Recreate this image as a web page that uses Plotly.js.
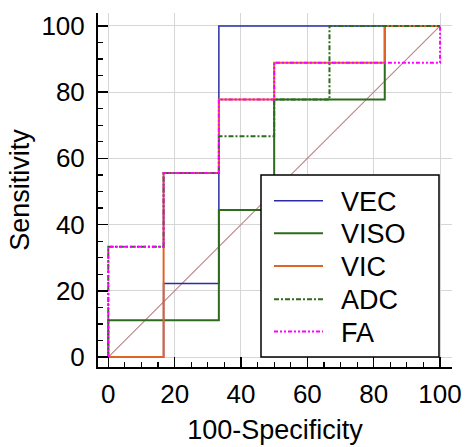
<!DOCTYPE html>
<html><head><meta charset="utf-8">
<script src="https://cdn.plot.ly/plotly-3.0.1.min.js"></script>
<style>html,body{margin:0;padding:0;background:#fff}</style>
</head><body><div id="chart" style="width:465px;height:447px"></div>
<script>
// ROC operating points (100-Specificity, Sensitivity), drawn as steps
const vecX  = [0, 16.67, 33.33, 100];
const vecY  = [0, 22.22, 100, 100];
const visoX = [0, 0, 33.33, 50, 83.33, 100];
const visoY = [0, 11.11, 44.44, 77.78, 100, 100];
const vicX  = [0, 16.67, 33.33, 50, 83.33, 100];
const vicY  = [0, 55.56, 77.78, 88.89, 100, 100];
const adcX  = [0, 0, 16.67, 33.33, 50, 66.67, 100];
const adcY  = [0, 33.33, 55.56, 66.67, 77.78, 100, 100];
const faX   = [0, 0, 16.67, 33.33, 50, 100];
const faY   = [0, 33.33, 55.56, 77.78, 88.89, 100];
const diagX = [0, 100];
const diagY = [0, 100];
const seriesNames = ['VEC', 'VISO', 'VIC', 'ADC', 'FA'];
const tickVals = [0, 20, 40, 60, 80, 100];
const FONT = 'Liberation Sans, Arial, sans-serif';

const styles = [
  {color: '#2b2ba6', width: 1.5, dash: 'solid'},
  {color: '#2d6b1e', width: 2, dash: 'solid'},
  {color: '#e0642a', width: 2, dash: 'solid'},
  {color: '#2d6b1e', width: 2, dash: '5px,2px,2px,2px'},
  {color: '#ff00ff', width: 2, dash: '4px,2px,2px,2px,2px,2px'}
];
const seriesX = [vecX, visoX, vicX, adcX, faX];
const seriesY = [vecY, visoY, vicY, adcY, faY];

const traces = [
  {x: diagX, y: diagY, mode: 'lines', line: {color: '#c08282', width: 1.1}, showlegend: false, hoverinfo: 'skip'}
];
seriesNames.forEach((n, i) => {
  traces.push({x: seriesX[i], y: seriesY[i], name: n, mode: 'lines',
    line: Object.assign({shape: 'hv'}, styles[i]), showlegend: false});
});

// plot area in pixels
const L = 98, R = 452, T = 13, B = 367;
const px = v => (v - L) / (R - L);
const py = v => (B - v) / (B - T);

// custom legend (box, line samples, labels)
const shapes = [{type: 'rect', xref: 'paper', yref: 'paper',
  x0: px(261), x1: px(439), y0: py(357), y1: py(175),
  fillcolor: '#fff', line: {color: '#000', width: 1.5}, layer: 'above'}];
const annotations = [];
const itemY = [200.7, 233.3, 266, 299.3, 331.5];
seriesNames.forEach((n, i) => {
  shapes.push({type: 'line', xref: 'paper', yref: 'paper',
    x0: px(274), x1: px(323), y0: py(itemY[i]), y1: py(itemY[i]),
    line: styles[i], layer: 'above'});
  annotations.push({xref: 'paper', yref: 'paper', x: px(339), y: py(itemY[i] + 1),
    xanchor: 'left', yanchor: 'middle', text: n, showarrow: false,
    font: {family: FONT, size: 27, color: '#000'}});
});

const axisCommon = {
  tickvals: tickVals, ticks: 'inside', ticklen: 10, tickwidth: 1.5, tickcolor: '#000',
  showline: true, linecolor: '#000', linewidth: 2, mirror: false,
  showgrid: true, gridcolor: '#d6d6d6', gridwidth: 1, zeroline: false,
  minor: {dtick: 5, tick0: 0, ticks: 'inside', ticklen: 5, tickwidth: 1.2, tickcolor: '#000', showgrid: false},
  tickfont: {family: FONT, size: 26, color: '#000'}
};

const layout = {
  width: 465, height: 447,
  margin: {l: L, r: 465 - R, t: T, b: 447 - B},
  paper_bgcolor: '#fff', plot_bgcolor: '#fff',
  font: {family: FONT, color: '#000'},
  xaxis: Object.assign({}, axisCommon, {
    range: [-3.1, 103.6], ticklabelstandoff: 3,
    title: {text: '100-Specificity', font: {family: FONT, size: 27, color: '#000'}, standoff: 12}
  }),
  yaxis: Object.assign({}, axisCommon, {
    range: [-3.0, 103.9], ticklabelstandoff: 6,
    title: {text: 'Sensitivity', font: {family: FONT, size: 27, color: '#000'}, standoff: 4}
  }),
  shapes: shapes,
  annotations: annotations,
  showlegend: false
};

Plotly.newPlot('chart', traces, layout, {staticPlot: true, displayModeBar: false});
</script></body></html>
